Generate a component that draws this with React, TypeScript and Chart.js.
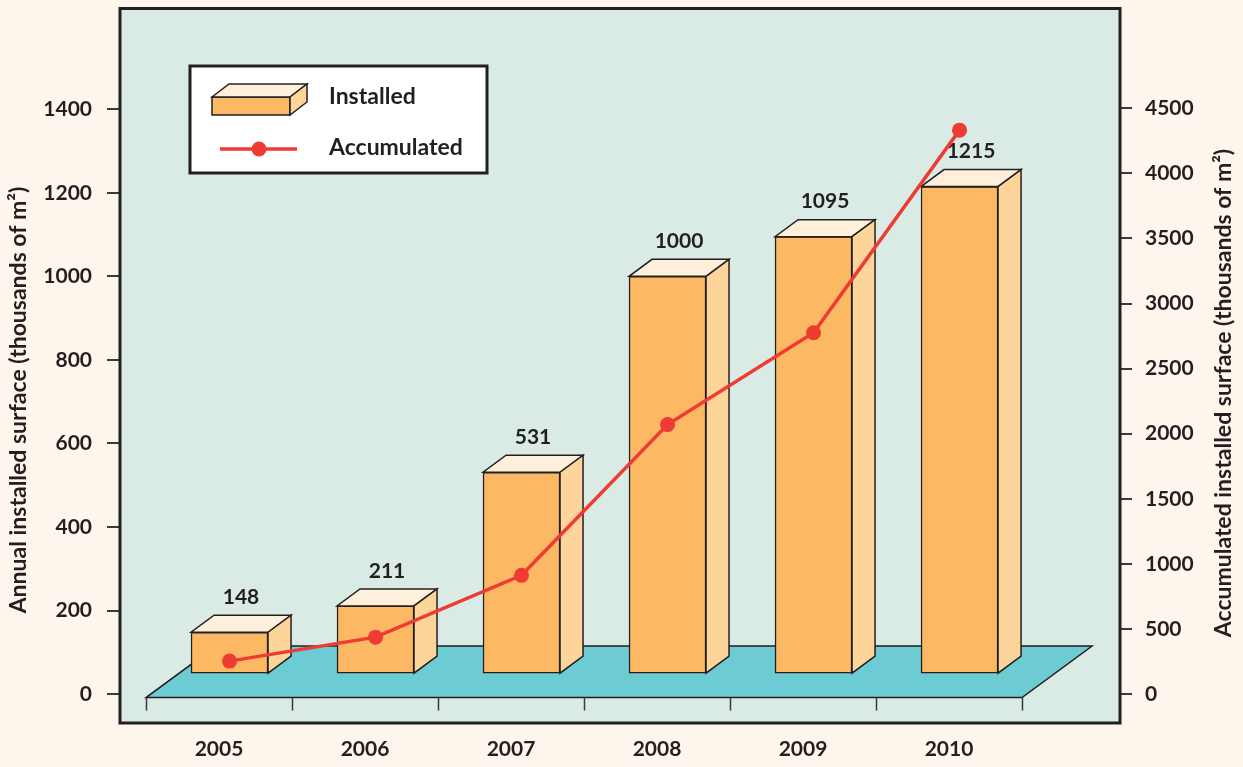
import React, { useEffect, useRef } from "react";
import { Chart, registerables } from "chart.js";

Chart.register(...registerables);

// ---------- data ----------
const years = ["2005", "2006", "2007", "2008", "2009", "2010"];
const installed = [148, 211, 531, 1000, 1095, 1215];
const accumulated = [253, 437, 912, 2070, 2775, 4332];
const leftTicks = [0, 200, 400, 600, 800, 1000, 1200, 1400];
const rightTicks = [0, 500, 1000, 1500, 2000, 2500, 3000, 3500, 4000, 4500];
const seriesNames = ["Installed", "Accumulated"];
const leftTitle = "Annual installed surface (thousands of m²)";
const rightTitle = "Accumulated installed surface (thousands of m²)";

// ---------- styles ----------
const FONT = "Lato, 'Open Sans', sans-serif";
const PAGE_BG = "#FEF6EC";
const PLOT_BG = "#DAEBE5";
const FLOOR = "#6CCBD3";
const BAR_FRONT = "#FDB863";
const BAR_TOP = "#FFF0DC";
const BAR_SIDE = "#FDD499";
const LINE = "#EE3B33";
const INK = "#231F20";
const DEPTH_X = 23;
const DEPTH_Y = -17;
const FLOOR_DX = 70;
const FLOOR_DY = -51.5;
const LABEL_SHIFT = -10.5; // px, category label centre vs bar centre

const decorPlugin = {
  id: "decor3d",
  beforeDraw(chart: any) {
    const { ctx, chartArea: a, width, height } = chart;
    ctx.save();
    ctx.fillStyle = PAGE_BG;
    ctx.fillRect(0, 0, width, height);
    ctx.fillStyle = PLOT_BG;
    ctx.fillRect(a.left, a.top, a.right - a.left, a.bottom - a.top);
    ctx.restore();
  },
  beforeDatasetsDraw(chart: any) {
    const { ctx } = chart;
    const xs = chart.scales.x;
    const ys = chart.scales.y;
    const y0 = ys.getPixelForValue(0) + 3.5;
    const step = xs.getPixelForValue(1) - xs.getPixelForValue(0);
    const first = xs.getPixelForValue(0) + LABEL_SHIFT - step / 2;
    const last = first + step * years.length;
    ctx.save();
    ctx.beginPath();
    ctx.moveTo(first, y0);
    ctx.lineTo(last, y0);
    ctx.lineTo(last + FLOOR_DX, y0 + FLOOR_DY);
    ctx.lineTo(first + FLOOR_DX, y0 + FLOOR_DY);
    ctx.closePath();
    ctx.fillStyle = FLOOR;
    ctx.fill();
    ctx.strokeStyle = INK;
    ctx.lineWidth = 1.5;
    ctx.lineJoin = "miter";
    ctx.stroke();
    // floor ticks
    ctx.lineWidth = 1.5;
    ctx.strokeStyle = "#3a3a3a";
    for (let i = 0; i <= years.length; i++) {
      const px = Math.round(first + step * i) + 0.5;
      ctx.beginPath();
      ctx.moveTo(px, y0);
      ctx.lineTo(px, y0 + 13);
      ctx.stroke();
    }
    ctx.restore();
  },
  afterDatasetDraw(chart: any, args: any) {
    if (args.index !== 0) return;
    const { ctx } = chart;
    const meta = chart.getDatasetMeta(0);
    ctx.save();
    ctx.lineWidth = 1.5;
    ctx.strokeStyle = INK;
    ctx.lineJoin = "miter";
    meta.data.forEach((el: any, i: number) => {
      const { x, y, base, width } = el.getProps(["x", "y", "base", "width"], true);
      const L = x - width / 2;
      const R = x + width / 2;
      // top face
      ctx.beginPath();
      ctx.moveTo(L, y);
      ctx.lineTo(R, y);
      ctx.lineTo(R + DEPTH_X, y + DEPTH_Y);
      ctx.lineTo(L + DEPTH_X, y + DEPTH_Y);
      ctx.closePath();
      ctx.fillStyle = BAR_TOP;
      ctx.fill();
      ctx.stroke();
      // side face
      ctx.beginPath();
      ctx.moveTo(R, y);
      ctx.lineTo(R + DEPTH_X, y + DEPTH_Y);
      ctx.lineTo(R + DEPTH_X, base + DEPTH_Y);
      ctx.lineTo(R, base);
      ctx.closePath();
      ctx.fillStyle = BAR_SIDE;
      ctx.fill();
      ctx.stroke();
      // value label
      ctx.fillStyle = INK;
      ctx.font = `bold 21px ${FONT}`;
      ctx.textAlign = "center";
      ctx.textBaseline = "middle";
      ctx.fillText(String(installed[i]), x + DEPTH_X / 2, y + DEPTH_Y - 18);
    });
    ctx.restore();
  },
  afterDraw(chart: any) {
    const { ctx, chartArea: a } = chart;
    ctx.save();
    // frame
    ctx.strokeStyle = INK;
    ctx.lineWidth = 3;
    ctx.strokeRect(a.left + 1, a.top + 1, a.right - a.left - 1, a.bottom - a.top);

    // legend
    ctx.fillStyle = "#ffffff";
    ctx.fillRect(190, 66, 297, 107);
    ctx.lineWidth = 3;
    ctx.strokeRect(190, 66, 297, 107);
    // legend box icon
    ctx.lineWidth = 1.5;
    const bx = 212, by = 97, bw = 78, bh = 18, ddx = 17, ddy = -13;
    ctx.fillStyle = BAR_FRONT;
    ctx.fillRect(bx, by, bw, bh);
    ctx.strokeRect(bx, by, bw, bh);
    ctx.beginPath();
    ctx.moveTo(bx, by);
    ctx.lineTo(bx + ddx, by + ddy);
    ctx.lineTo(bx + bw + ddx, by + ddy);
    ctx.lineTo(bx + bw, by);
    ctx.closePath();
    ctx.fillStyle = BAR_TOP;
    ctx.fill();
    ctx.stroke();
    ctx.beginPath();
    ctx.moveTo(bx + bw, by);
    ctx.lineTo(bx + bw + ddx, by + ddy);
    ctx.lineTo(bx + bw + ddx, by + bh + ddy);
    ctx.lineTo(bx + bw, by + bh);
    ctx.closePath();
    ctx.fillStyle = BAR_SIDE;
    ctx.fill();
    ctx.stroke();
    // legend line icon
    ctx.strokeStyle = LINE;
    ctx.lineWidth = 3.5;
    ctx.beginPath();
    ctx.moveTo(220, 149);
    ctx.lineTo(297, 149);
    ctx.stroke();
    ctx.fillStyle = LINE;
    ctx.beginPath();
    ctx.arc(259, 149, 7.5, 0, Math.PI * 2);
    ctx.fill();
    // legend text
    ctx.fillStyle = INK;
    ctx.font = `bold 23px ${FONT}`;
    ctx.textAlign = "left";
    ctx.textBaseline = "middle";
    ctx.fillText(seriesNames[0], 329, 97);
    ctx.fillText(seriesNames[1], 329, 148);

    // axis titles
    ctx.font = `bold 23px ${FONT}`;
    ctx.textAlign = "center";
    ctx.textBaseline = "middle";
    ctx.save();
    ctx.translate(19, 400);
    ctx.rotate(-Math.PI / 2);
    ctx.fillText(leftTitle, 0, 0);
    ctx.restore();
    ctx.save();
    ctx.translate(1224, 393);
    ctx.rotate(-Math.PI / 2);
    ctx.fillText(rightTitle, 0, 0);
    ctx.restore();
    ctx.restore();
  },
};

export default function App() {
  const ref = useRef<HTMLCanvasElement | null>(null);

  useEffect(() => {
    if (!ref.current) return;
    const tickFont = { family: FONT, size: 21, weight: "bold" as const };
    const noPadV = (s: any, w: number) => {
      s.width = w;
      s.paddingTop = 0;
      s.paddingBottom = 0;
    };
    const chart = new Chart(ref.current, {
      type: "bar",
      data: {
        datasets: [
          {
            type: "bar",
            label: seriesNames[0],
            data: installed.map((v, i) => ({ x: i, y: v })),
            backgroundColor: BAR_FRONT,
            borderColor: INK,
            borderWidth: 1.5,
            borderSkipped: false,
            barThickness: 77,
            base: 50,
            yAxisID: "y",
            order: 2,
          } as any,
          {
            type: "line",
            label: seriesNames[1],
            data: accumulated.map((v, i) => ({ x: i, y: v })),
            borderColor: LINE,
            backgroundColor: LINE,
            borderWidth: 3.5,
            pointRadius: 7.5,
            pointBorderWidth: 0,
            pointBackgroundColor: LINE,
            tension: 0,
            yAxisID: "y1",
            order: 1,
          } as any,
        ],
      },
      options: {
        responsive: false,
        animation: false,
        devicePixelRatio: 1,
        layout: { padding: { top: 6, left: 0, right: 0, bottom: 0 } },
        plugins: {
          legend: { display: false },
          tooltip: { enabled: false },
        },
        scales: {
          x: {
            type: "linear",
            offset: false,
            min: -0.757,
            max: 6.099,
            grid: { display: false, drawTicks: false },
            border: { display: false },
            afterBuildTicks: (s: any) => {
              s.ticks = years.map((_, i) => ({ value: i }));
            },
            afterFit: (s: any) => {
              s.height = 45;
              s.paddingLeft = 0;
              s.paddingRight = 0;
            },
            ticks: {
              autoSkip: false,
              maxRotation: 0,
              padding: 15,
              labelOffset: LABEL_SHIFT,
              color: INK,
              font: tickFont,
              callback: (v: any) => years[Math.round(Number(v))] ?? "",
            },
          },
          y: {
            type: "linear",
            position: "left",
            min: -66.9,
            max: 1643.7,
            afterBuildTicks: (s: any) => {
              s.ticks = leftTicks.map((v) => ({ value: v }));
            },
            afterFit: (s: any) => noPadV(s, 119),
            grid: {
              drawOnChartArea: false,
              drawTicks: true,
              tickLength: 12,
              tickColor: "#3a3a3a",
              lineWidth: 2,
            },
            border: { display: false },
            ticks: {
              padding: 15,
              color: INK,
              font: tickFont,
              callback: (v: any) => String(v),
            },
          },
          y1: {
            type: "linear",
            position: "right",
            min: -214.7,
            max: 5274,
            afterBuildTicks: (s: any) => {
              s.ticks = rightTicks.map((v) => ({ value: v }));
            },
            afterFit: (s: any) => noPadV(s, 123),
            grid: {
              drawOnChartArea: false,
              drawTicks: true,
              tickLength: 12,
              tickColor: "#3a3a3a",
              lineWidth: 2,
            },
            border: { display: false },
            ticks: {
              padding: 13,
              color: INK,
              font: tickFont,
              callback: (v: any) => String(v),
            },
          },
        },
      },
      plugins: [decorPlugin],
    } as any);
    return () => chart.destroy();
  }, []);

  return (
    <div
      style={{
        position: "fixed",
        left: 0,
        top: 0,
        width: 1243,
        height: 767,
        background: PAGE_BG,
      }}
    >
      <canvas ref={ref} width={1243} height={767} style={{ display: "block" }} />
    </div>
  );
}
